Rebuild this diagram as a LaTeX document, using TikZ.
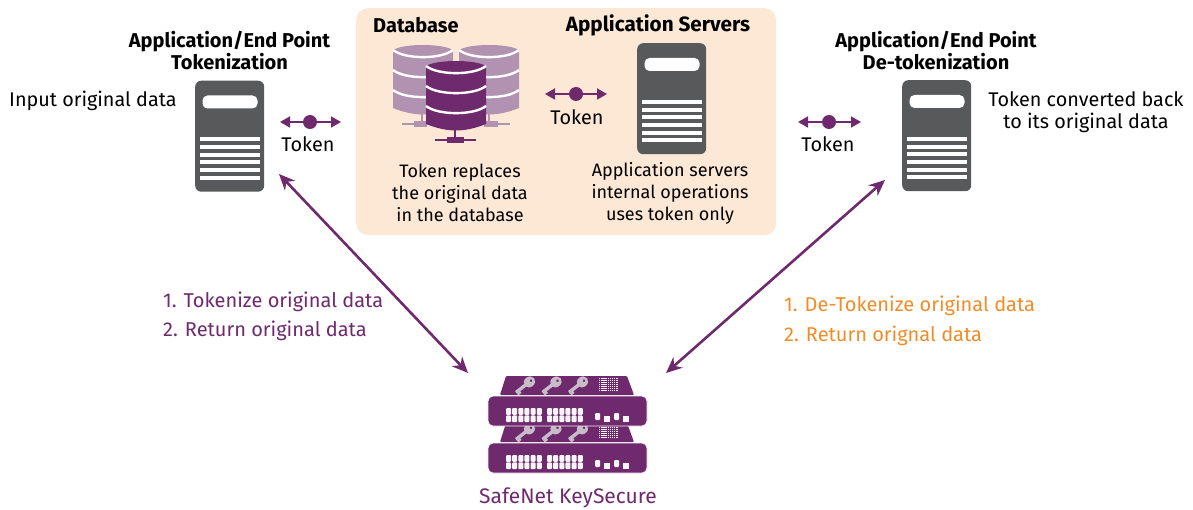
\documentclass[tikz,border=0pt]{standalone}
\usepackage{fontspec}
\setmainfont{Fira Sans}
\usetikzlibrary{arrows.meta}
\definecolor{purp}{HTML}{6F2A6D}
\definecolor{lpurp}{HTML}{B193B1}
\definecolor{orng}{HTML}{F28C28}
\definecolor{srv}{HTML}{58595B}
\definecolor{peach}{HTML}{FCE8D5}
\definecolor{keyc}{HTML}{C9BCC9}
\tikzset{
  x=1pt,y=-1pt,
  txt/.style={inner sep=0pt,align=center,font=\fontsize{19.8}{21.5}\selectfont,text=black},
  small/.style={inner sep=0pt,align=center,font=\fontsize{18}{22}\selectfont,text=black},
  ttl/.style={inner sep=0pt,align=center,font=\fontsize{20}{19.8}\selectfont\bfseries,text=black},
  lst/.style={inner sep=0pt,anchor=west,font=\fontsize{20}{22}\selectfont},
  tokline/.style={purp,line width=1.8pt,-{Triangle[length=10pt,width=11pt]}},
  longarrow/.style={purp,line width=2.6pt,{Stealth[length=16pt,width=14pt]}-{Stealth[length=16pt,width=14pt]}},
  tokdot/.style={circle,fill=purp,inner sep=0pt,minimum size=14pt},
}
\newcommand{\srvbox}[3]{%
 \begin{scope}[shift={(#1,#2)}]
  \node[fill=srv,rounded corners=6pt,minimum width=69pt,minimum height=111pt,inner sep=0pt,anchor=north west] (#3) at (0,0) {};
  \fill[white,rounded corners=5pt] (7.5,15) rectangle (62.5,28);
  \foreach \yy in {57,65,72.5,80,88,95.5}{\fill[white] (4.5,\yy) rectangle (64.5,\yy+4);}
 \end{scope}}
\newcommand{\cyl}[3]{%
 \begin{scope}[shift={(#1,#2)}]
  \fill[#3] (0,5) .. controls (6,1.5) and (18,0) .. (30,0) .. controls (42,0) and (54,1.5) .. (60,5) -- (60,63) .. controls (50,67) and (40,69.5) .. (30,69.5) .. controls (20,69.5) and (10,67) .. (0,63) -- cycle;
  \foreach \yy in {5,25,45}{
   \draw[white,line width=2.4pt] (0,\yy) .. controls (12,\yy+9.5) and (48,\yy+9.5) .. (60,\yy);}
 \end{scope}}
\newcommand{\keyic}[2]{%
 \begin{scope}[shift={(#1,#2)},rotate=38]
  \fill[keyc] (3,-1.7) rectangle (-12,1.7);
  \fill[keyc] (-12,0) -- (-12,3.8) -- (-8,3.8) -- (-8,0) -- cycle;
  \fill[keyc,even odd rule] (5,0) ellipse (6 and 5.2) (7,0) circle (1.6);
 \end{scope}}
\newcommand{\portgrp}[2]{%
 \foreach \i in {0,...,5}{
  \fill[white!85!keyc,rounded corners=1pt] (#1+\i*6.15,#2) rectangle ++(5,6.8);
  \fill[white!85!keyc,rounded corners=1pt] (#1+\i*6.15,#2+7.4) rectangle ++(5,6.8);}}
\newcommand{\trap}[1]{%
 \fill[purp,rounded corners=1pt] (506,#1) -- (627,#1) -- (634,#1+19) -- (500,#1+19) -- cycle;
 \keyic{525.5}{#1+9}\keyic{552}{#1+9}\keyic{578.5}{#1+9}
 \foreach \a in {0,...,8}{\fill[white!80!keyc] (599+\a*2.15,#1+2) rectangle ++(1.4,13);}
 \foreach \a in {0,...,6}{\fill[purp] (598.5,#1+3.3+\a*1.9) rectangle ++(20,0.7);}}
\newcommand{\panelu}[1]{%
 \fill[purp,draw=white!80!keyc,line width=0.8pt,rounded corners=5pt] (488,#1) rectangle (647,#1+30);
 \portgrp{506}{#1+12}\portgrp{547}{#1+12}
 \fill[white!85!keyc,rounded corners=1pt] (595,#1+17) rectangle ++(5,7);
 \fill[white!85!keyc] (604,#1+20) rectangle ++(5.5,6);
 \fill[white!85!keyc,rounded corners=1pt] (614,#1+17) rectangle ++(5,7);
 \fill[white!85!keyc] (623,#1+20) rectangle ++(5.5,6);}
\begin{document}
\begin{tikzpicture}
\useasboundingbox (0,0) rectangle (1193,510);
\fill[white] (0,0) rectangle (1193,510);
\node[fill=peach,rounded corners=12pt,minimum width=420pt,minimum height=227pt,inner sep=0pt,anchor=north west] (panel) at (356,8) {};

% database
\fill[lpurp] (421.3,114) rectangle (422.7,124); \fill[lpurp] (402,123) rectangle (432,125); \fill[lpurp] (414,121) rectangle (427,127);
\fill[lpurp] (488.3,114) rectangle (489.7,124); \fill[lpurp] (480,123) rectangle (510,125); \fill[lpurp] (484,121) rectangle (498,127);
\cyl{393}{45}{lpurp}
\cyl{459}{45}{lpurp}
\fill[purp] (454.3,130) rectangle (455.7,140); \fill[purp] (435,139) rectangle (476,141); \fill[purp] (447,137) rectangle (464,143);
\cyl{426}{61}{purp}

% servers
\srvbox{195}{80.5}{srvL}
\srvbox{637}{43}{srvM}
\srvbox{902}{80}{srvR}

% KeySecure
\trap{376}
\trap{423}
\panelu{396}
\panelu{443}

% titles
\node[ttl] (t1) at (229.5,50.5) {Application/End Point\\Tokenization};
\node[ttl,anchor=west] (t2) at (373,25) {Database};
\node[ttl,font=\fontsize{20.7}{20}\selectfont\bfseries] (t3) at (658,25.5) {Application Servers};
\node[ttl] (t4) at (936,50.5) {Application/End Point\\De-tokenization};

% body
\node[txt,anchor=west] (inp) at (9,101) {Input original data};
\node[small] (dbt) at (460,193) {Token replaces\\the original data\\in the database};
\node[small] (ast) at (670,193) {Application servers\\internal operations\\uses token only};
\node[txt] (conv) at (1086,112) {Token converted back\\to its original data};

% tokens
\node[tokdot] (d1) at (310,122) {};
\coordinate (d1a) at (280,122); \coordinate (d1b) at (341,122);
\draw[tokline] (d1) -- (d1a); \draw[tokline] (d1) -- (d1b);
\node[txt] (tk1) at (308,144.5) {Token};
\node[tokdot] (d2) at (576,94) {};
\coordinate (d2a) at (545,94); \coordinate (d2b) at (607,94);
\draw[tokline] (d2) -- (d2a); \draw[tokline] (d2) -- (d2b);
\node[txt] (tk2) at (577,117.5) {Token};
\node[tokdot] (d3) at (829,122) {};
\coordinate (d3a) at (798,122); \coordinate (d3b) at (861,122);
\draw[tokline] (d3) -- (d3a); \draw[tokline] (d3) -- (d3b);
\node[txt] (tk3) at (828,144.5) {Token};

% long arrows
\coordinate (la) at (279,174); \coordinate (lb) at (468,373);
\coordinate (ra) at (885,180); \coordinate (rb) at (666,373);
\draw[longarrow] (la) -- (lb);
\draw[longarrow] (ra) -- (rb);

% lists
\node[lst,text=purp] (l1) at (163,301.5) {1. Tokenize original data};
\node[lst,text=purp] (l2) at (163,331) {2. Return original data};
\node[lst,text=orng] (r1) at (784,305.5) {1. De-Tokenize original data};
\node[lst,text=orng] (r2) at (784,336) {2. Return orignal data};
\node[txt,text=purp,font=\fontsize{21}{22}\selectfont] (ks) at (568,498) {SafeNet KeySecure};
\end{tikzpicture}
\end{document}
